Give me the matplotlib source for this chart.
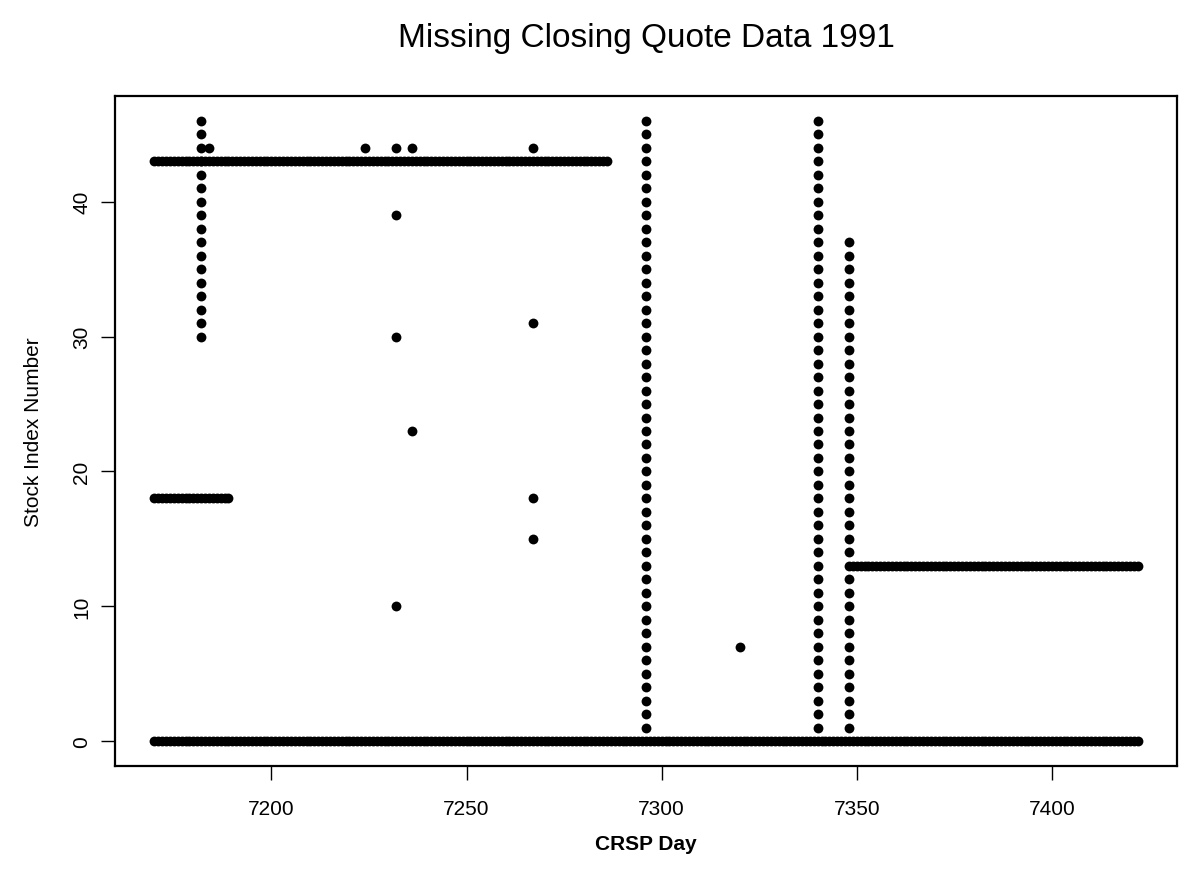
import numpy as np
import matplotlib.pyplot as plt

# horizontal runs: one stock missing its closing quote on consecutive CRSP days
row_stock = [0, 43, 18, 13]
row_first = [7170, 7170, 7170, 7349]
row_last = [7422, 7286, 7189, 7422]

# vertical runs: one CRSP day with a block of stocks missing
col_day = [7182, 7296, 7340, 7348]
col_low = [30, 1, 1, 1]
col_high = [46, 46, 46, 37]

# isolated missing quotes
single_day = [7184, 7224, 7232, 7232, 7232, 7232, 7236, 7236, 7267, 7267, 7267, 7267, 7320]
single_stock = [44, 44, 44, 39, 30, 10, 44, 23, 44, 31, 18, 15, 7]

days, stocks = [], []
for s, a, b in zip(row_stock, row_first, row_last):
    d = np.arange(a, b + 1)
    days.append(d)
    stocks.append(np.full(len(d), s))
for d, lo, hi in zip(col_day, col_low, col_high):
    s = np.arange(lo, hi + 1)
    days.append(np.full(len(s), d))
    stocks.append(s)
days.append(np.array(single_day))
stocks.append(np.array(single_stock))
x = np.concatenate(days)
y = np.concatenate(stocks)

plt.rcParams['font.family'] = ['Liberation Sans', 'DejaVu Sans']

W, H = 1179, 879
fig = plt.figure(figsize=(W / 100, H / 100), dpi=100)
ax = fig.add_axes([115 / W, 1 - 767 / H, (1177 - 115) / W, (767 - 97) / H])

ax.scatter(x, y, s=50, c='black', linewidths=0)

# R style 4% padding around the data
xr = x.max() - x.min()
yr = y.max() - y.min()
ax.set_xlim(x.min() - 0.04 * xr, x.max() + 0.04 * xr)
ax.set_ylim(y.min() - 0.04 * yr, y.max() + 0.04 * yr)

ax.set_xticks([7200, 7250, 7300, 7350, 7400])
ax.set_yticks([0, 10, 20, 30, 40])
ax.tick_params(direction='out', length=10, width=1, labelsize=15, colors='black')
ax.tick_params(axis='x', pad=14)
ax.tick_params(axis='y', pad=7, labelrotation=90)
for lab in ax.get_yticklabels():
    lab.set_verticalalignment('center')

for sp in ax.spines.values():
    sp.set_linewidth(1.6)
    sp.set_color('black')

ax.set_title('Missing Closing Quote Data 1991', fontsize=24, pad=36)
ax.set_xlabel('CRSP Day', fontsize=15, fontweight='bold')
ax.xaxis.set_label_coords(0.5, -0.1015)
ax.set_ylabel('Stock Index Number', fontsize=15)
ax.yaxis.set_label_coords(-0.068, 0.5)

fig.savefig('out.png', dpi=100)
